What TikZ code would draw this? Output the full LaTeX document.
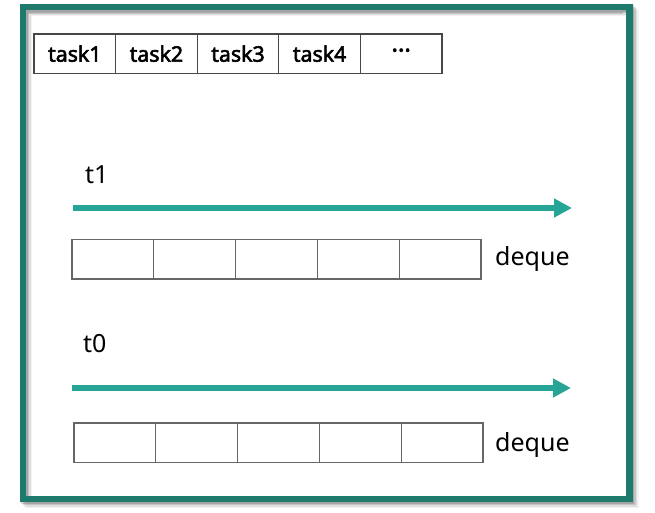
\documentclass[tikz,border=0pt]{standalone}
\usepackage{fontspec}
\setmainfont{Noto Sans}
\newfontfamily\taskfont{Noto Sans}[AutoFakeBold=2.6]
\usetikzlibrary{arrows.meta}
\definecolor{FrameTeal}{RGB}{29,122,108}
\definecolor{ArrowTeal}{RGB}{38,164,150}
\begin{document}
\begin{tikzpicture}[x=1pt,y=-1pt,
    declare function={cw=81.6;dw=81.8;ch=39.3;},
    cell/.style={draw=black!72,line width=1.2pt,
            anchor=north west,outer sep=0pt,inner sep=0pt,
            minimum height=ch*1pt},
    task cell/.style={cell,minimum width=cw*1pt,
            font=\taskfont\fontsize{21.3}{22}\selectfont\bfseries},
    deque cell/.style={cell,draw=black!60,minimum width=dw*1pt},
    time label/.style={anchor=base west,inner sep=0pt,
            font=\fontsize{25}{27}\selectfont},
    time arrow/.style={draw=ArrowTeal,line width=6pt,
            -{Triangle[length=18pt,width=18pt]}}]
    \useasboundingbox (0,0) rectangle (655,513);
    % frame with its shadow
    \foreach \s/\o in {6/0.05,4.5/0.08,3/0.12,1.5/0.16}
       {\draw[black,opacity=\o,line width=6.5pt]
          (23+\s,7+\s) rectangle (629.5+\s,499+\s);}
    \draw[black,opacity=0.12,line width=2pt] (27.5,13) -- (623,13);
    \draw[FrameTeal,line width=6.5pt] (23,7) rectangle (629.5,499);
    % tasks
    \path foreach \X [count=\i] in {task1,task2,task3,task4,
          \raisebox{-3pt}{\fontsize{24}{24}\selectfont···}}
       {(34+\i*cw-cw,34) node[task cell] (task-\i) {\X}};
    % thread t1
    \node[time label] (lbl-t1) at (85,183) {t1};
    \coordinate (t1-start) at (73,208);
    \coordinate (t1-end) at (572,208);
    \draw[time arrow] (t1-start) -- (t1-end);
    \path foreach \i in {1,...,5}
       {(72+\i*dw-dw,239.7) node[deque cell] (dqa-\i) {}};
    \node[time label] (dqa-lbl) at (495,265) {deque};
    % thread t0
    \node[time label] (lbl-t0) at (83,352) {t0};
    \coordinate (t0-start) at (72,388);
    \coordinate (t0-end) at (571,388);
    \draw[time arrow] (t0-start) -- (t0-end);
    \path foreach \i in {1,...,5}
       {(74+\i*dw-dw,423) node[deque cell] (dqb-\i) {}};
    \node[time label] (dqb-lbl) at (495,451) {deque};
\end{tikzpicture}
\end{document}
